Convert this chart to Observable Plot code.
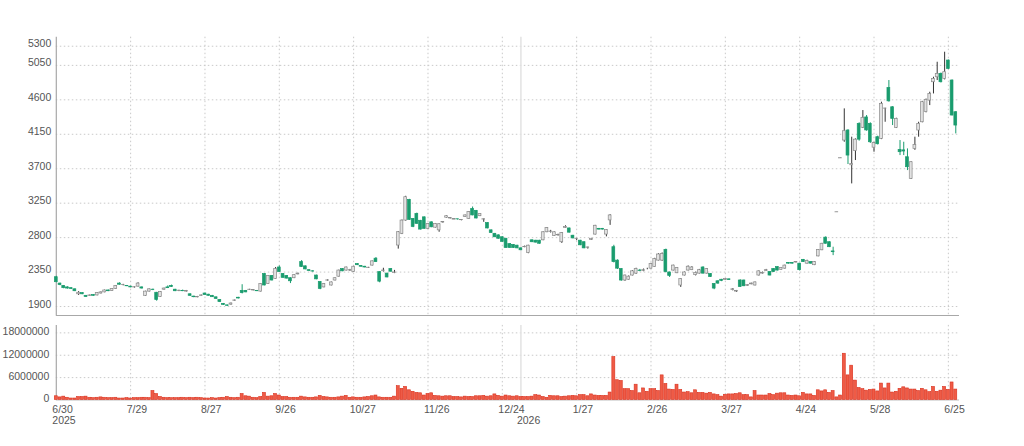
<!DOCTYPE html>
<html>
<head>
<meta charset="utf-8">
<script src="https://cdn.jsdelivr.net/npm/d3@7"></script>
<script src="https://cdn.jsdelivr.net/npm/@observablehq/plot@0.6"></script>
<style>
  html, body { margin: 0; padding: 0; background: #fff; }
  #chart { width: 1024px; height: 446px; position: relative; overflow: hidden; }
  #chart svg { display: block; }
</style>
</head>
<body>
<div id="chart"></div>
<script>
// ---- Data (trading-day index 0 = 2025/6/30) ----
const open = [2283,2200,2170,2150,2140,2125,2060,2075,2040,2040,2050,2045,2070,2085,2110,2105,2130,2200,2180,2170,
2160,2150,2160,2150,2040,2095,2120,2080,2025,2120,2150,2170,2120,2105,2105,2095,2060,2030,2020,2040,
2070,2055,2040,2020,1985,1935,1915,1925,1975,2015,2105,2105,2115,2110,2105,2095,2325,2195,2300,2260,
2410,2325,2300,2270,2270,2320,2480,2425,2375,2360,2305,2220,2150,2238,2175,2240,2290,2390,2370,2370,
2350,2455,2430,2420,2403,2435,2525,2350,2365,2330,2390,2340,2697,2850,3023,3293,3045,3110,3020,
3065,2915,3000,2930,2895,2998,3060,3050,3035,3040,3028,3070,3045,3175,3150,3080,3036,2990,2895,2850,2830,
2805,2785,2715,2705,2695,2660,2675,2600,2765,2760,2760,2765,2870,2875,2820,2830,2740,2925,2920,2825,
2782,2760,2740,2668,2770,2840,2915,2915,2840,3025,2675,2500,2390,2240,2250,2305,2330,2370,2365,2390,
2395,2415,2500,2500,2640,2345,2370,2335,2175,2305,2370,2375,2310,2330,2410,2330,2325,2195,2230,2250,
2245,2255,2115,2095,2240,2240,2170,2190,2175,2305,2330,2365,2350,2390,2415,2380,2395,2470,2470,2475,
2460,2510,2460,2480,2440,2555,2635,2800,2740,2620,3130,3835,4068,4199,3745,3930,4286,4235,4370,4286,
3975,4112,4090,4485,4755,4503,4234,3946,3940,3850,3568,3959,4199,4307,4440,4590,4830,4895,4939,4873,
5113,4852,4438];
const high = [2295,2205,2175,2158,2145,2130,2095,2080,2045,2050,2055,2080,2090,2115,2115,2135,2175,2210,2190,2175,
2165,2158,2210,2155,2100,2130,2128,2085,2095,2140,2170,2180,2125,2112,2115,2110,2065,2035,2032,2050,
2075,2060,2045,2025,1990,1940,1920,1945,1985,2020,2185,2110,2125,2120,2110,2200,2330,2305,2305,2410,
2430,2330,2305,2275,2315,2335,2500,2430,2380,2368,2310,2225,2200,2250,2220,2275,2375,2395,2415,2385,
2425,2460,2435,2425,2412,2495,2540,2355,2400,2335,2395,2372,2880,3030,3340,3300,3050,3120,3025,
3070,2985,3005,2985,2980,3010,3085,3060,3048,3042,3035,3095,3140,3200,3155,3112,3045,2995,2900,2855,2835,
2810,2790,2720,2710,2700,2665,2690,2700,2770,2765,2765,2875,2930,2895,2875,2845,2865,2955,2925,2830,
2790,2765,2745,2675,2790,2960,2920,2920,2905,3100,2700,2510,2395,2310,2300,2370,2400,2385,2390,2400,
2465,2530,2590,2600,2650,2350,2440,2410,2265,2350,2430,2420,2350,2385,2420,2395,2330,2200,2235,2255,
2265,2260,2135,2110,2250,2245,2185,2205,2220,2365,2350,2385,2355,2395,2420,2410,2440,2475,2475,2485,
2465,2515,2505,2485,2485,2645,2725,2810,2745,2675,3132,3838,4482,4210,4112,4090,4300,4460,4395,4300,
4045,4125,4569,4490,4852,4510,4360,4068,4046,3959,3790,4112,4307,4580,4610,4699,4895,5091,4950,5222,
5120,4860,4445];
const low = [2210,2172,2132,2128,2122,2095,2045,2055,2018,2035,2035,2040,2065,2080,2095,2100,2125,2180,2170,2160,
2145,2140,2155,2130,2035,2090,2108,1970,2020,2115,2135,2150,2095,2095,2095,2090,2035,2015,2015,2035,
2045,2035,2018,1995,1952,1915,1900,1918,1968,2000,2065,2080,2110,2105,2095,2090,2170,2190,2235,2255,
2345,2270,2260,2200,2265,2315,2410,2380,2360,2350,2250,2120,2145,2230,2170,2235,2285,2355,2365,2360,
2345,2435,2415,2405,2398,2430,2475,2210,2350,2275,2350,2330,2650,2840,3015,3025,2930,2975,2900,
2910,2910,2930,2925,2870,2990,3055,3045,3035,3028,3020,3065,3040,3085,3045,3075,3000,2915,2855,2800,2780,
2740,2660,2660,2660,2655,2630,2668,2590,2735,2730,2715,2760,2865,2860,2815,2820,2725,2920,2860,2785,
2760,2695,2655,2650,2765,2835,2900,2900,2810,2960,2470,2385,2230,2230,2245,2300,2320,2355,2355,2380,
2390,2410,2495,2490,2340,2280,2365,2330,2150,2300,2365,2370,2300,2325,2325,2325,2280,2120,2190,2225,
2240,2240,2105,2085,2150,2160,2165,2185,2170,2300,2325,2360,2300,2345,2365,2375,2390,2455,2455,2470,
2365,2475,2455,2455,2435,2550,2630,2715,2670,2565,3130,3835,4046,3755,3502,3807,4060,4225,4190,4030,
3916,4010,4080,4307,4570,4264,4225,3872,3872,3676,3560,3940,4112,4300,4430,4525,4677,4852,4820,4860,
4995,4390,4155];
const close = [2218,2180,2140,2135,2130,2100,2080,2060,2025,2045,2040,2075,2085,2110,2100,2130,2170,2185,2182,2165,
2150,2152,2200,2135,2095,2125,2115,1985,2090,2135,2140,2155,2100,2107,2100,2105,2040,2022,2025,2045,
2050,2040,2022,2000,1958,1922,1910,1940,1980,2005,2075,2085,2120,2115,2100,2195,2175,2300,2240,2390,
2350,2275,2265,2230,2310,2330,2415,2385,2365,2357,2255,2130,2195,2242,2215,2270,2370,2360,2410,2375,
2420,2440,2420,2410,2407,2490,2480,2225,2370,2280,2355,2345,2871,3023,3328,3032,2940,2980,2905,
2915,2980,2935,2980,2975,3005,3080,3055,3044,3038,3032,3090,3135,3090,3050,3108,3040,2920,2860,2805,2785,
2745,2665,2665,2665,2660,2635,2680,2695,2740,2735,2720,2870,2925,2880,2870,2835,2860,2940,2865,2790,
2786,2700,2660,2672,2785,2955,2905,2905,2900,3090,2480,2395,2240,2305,2290,2360,2390,2365,2375,2390,
2455,2520,2580,2585,2350,2300,2435,2405,2260,2345,2420,2410,2340,2375,2330,2390,2285,2135,2200,2235,
2260,2245,2125,2105,2155,2165,2180,2200,2215,2360,2340,2375,2305,2350,2370,2405,2435,2460,2460,2480,
2375,2480,2495,2460,2480,2640,2720,2720,2675,2610,3132,3838,4190,3872,3760,4080,4080,4365,4200,4046,
4035,4020,4547,4486,4580,4351,4351,3916,3925,3720,3785,4010,4286,4569,4600,4677,4873,4939,4830,4961,
5004,4395,4264];
const volume = [1000000,700000,900000,600000,400000,400000,800000,800000,900000,600000,500000,600000,700000,600000,500000,500000,600000,400000,400000,500000,
400000,500000,500000,600000,600000,500000,2400000,1600000,800000,600000,500000,500000,500000,500000,600000,500000,600000,500000,600000,500000,
400000,400000,500000,400000,500000,600000,800000,600000,500000,600000,1600000,1000000,900000,600000,500000,800000,1900000,900000,1000000,1600000,
1200000,800000,800000,600000,600000,600000,900000,700000,600000,600000,700000,1100000,800000,700000,600000,600000,700000,900000,1100000,600000,
700000,600000,600000,700000,800000,1000000,1200000,700000,600000,600000,600000,900000,3700000,3000000,3500000,2600000,2200000,1900000,1800000,
1200000,1600000,1800000,1100000,1000000,900000,1000000,1000000,800000,800000,700000,900000,800000,800000,1000000,1000000,1100000,900000,1000000,1500000,1100000,
900000,1200000,1000000,900000,1000000,800000,800000,800000,900000,1300000,1200000,800000,600000,1100000,1000000,1000000,800000,900000,1000000,1100000,
1000000,1300000,1300000,1000000,1500000,1200000,1100000,1100000,1100000,2000000,11500000,5300000,5100000,2900000,2900000,2400000,4100000,1800000,3100000,2200000,
2900000,2900000,2400000,6600000,4300000,2800000,2700000,4100000,2700000,2000000,2100000,1800000,2600000,1900000,1900000,1700000,1900000,1500000,1300000,900000,
1400000,1500000,1500000,1600000,1800000,1300000,1300000,700000,2400000,1200000,1200000,1200000,1600000,1300000,1700000,1800000,1800000,1200000,1100000,1200000,
1000000,1900000,1500000,1500000,1100000,2600000,2300000,2600000,1900000,2400000,700000,1200000,12400000,6600000,9200000,5200000,3200000,2900000,2500000,2700000,
2800000,2300000,4400000,3100000,4400000,2000000,2200000,3000000,3400000,3100000,2800000,2800000,2400000,3000000,2600000,2100000,3500000,2200000,2500000,3500000,
2700000,4700000,2800000];

const priceTicks = [1900, 2350, 2800, 3250, 3700, 4150, 4600, 5050, 5300];
const volumeTicks = [0, 6000000, 12000000, 18000000];
const dateTickIndex = [0, 20, 40, 60, 80, 100, 120, 140, 160, 180, 200, 220, 240];
const dateTickLabels = ["6/30","7/29","8/27","9/26","10/27","11/26","12/24","1/27","2/26","3/27","4/24","5/28","6/25"];
const yearIndex = [0, 125];
const yearLabels = ["2025", "2026"];

// ---- Build tables ----
const bars = close.map((c, i) => ({i, o: open[i], h: high[i], l: low[i], c, v: volume[i]}));
const dateTicks = dateTickIndex.map((i, k) => ({i, label: dateTickLabels[k]}));
const years = yearIndex.map((i, k) => ({i, label: yearLabels[k]}));

const GREEN = "#1a9c6e";
const HOLLOW_FILL = "#e2e2e2";
const HOLLOW_STROKE = "#8a8a8a";
const GRID = {stroke: "#c9c9c9", strokeOpacity: 1, strokeDasharray: "1.5,2.5", strokeWidth: 1};
const FONT = {fontFamily: "'Liberation Sans', Arial, sans-serif", fontSize: "10.5px", color: "#555", background: "transparent", overflow: "visible"};
const XDOM = [0, 243];
const ML = 55.8, MR = 65;
const isDown = d => d.c < d.o;

const price = Plot.plot({
  width: 1024, height: 320,
  marginLeft: ML, marginRight: MR, marginTop: 36.7, marginBottom: 5,
  x: {domain: XDOM, axis: null, label: null},
  y: {domain: [1783, 5418], axis: null, label: null},
  style: FONT,
  marks: [
    Plot.gridY(priceTicks, GRID),
    Plot.gridX(dateTickIndex.slice(1), GRID),
    Plot.ruleX([yearIndex[1]], {stroke: "#e3e3e3", strokeWidth: 1.5}),
    Plot.axisY(priceTicks, {tickSize: 0, tickPadding: 5, dy: -2.4, fill: "#555", label: null, tickFormat: d => String(d)}),
    Plot.ruleX([0], {stroke: "#a8a8a8", strokeWidth: 1.2}),
    Plot.ruleY([1783], {stroke: "#a8a8a8", strokeWidth: 1.2}),
    Plot.ruleX(bars, {x: "i", y1: "l", y2: "h", stroke: d => isDown(d) ? GREEN : "#333", strokeWidth: 1}),
    Plot.rect(bars, {
      x1: d => d.i - 0.38, x2: d => d.i + 0.38,
      y1: d => Math.min(d.o, d.c), y2: d => Math.max(d.o, d.c),
      fill: d => isDown(d) ? GREEN : HOLLOW_FILL,
      stroke: d => isDown(d) ? GREEN : HOLLOW_STROKE,
      strokeWidth: 0.7
    })
  ]
});

const vol = Plot.plot({
  width: 1024, height: 126,
  marginLeft: ML, marginRight: MR, marginTop: 4.9, marginBottom: 46.5,
  x: {domain: XDOM, axis: null, label: null},
  y: {domain: [0, 20000000], axis: null, label: null},
  style: FONT,
  marks: [
    Plot.gridY(volumeTicks.slice(1), GRID),
    Plot.gridX(dateTickIndex.slice(1), GRID),
    Plot.ruleX([yearIndex[1]], {stroke: "#e3e3e3", strokeWidth: 1.5}),
    Plot.axisY(volumeTicks, {tickSize: 0, tickPadding: 7, dy: -1, fill: "#555", label: null, tickFormat: d => String(d)}),
    Plot.ruleX([0], {stroke: "#a8a8a8", strokeWidth: 1.2}),
    Plot.ruleY([0], {stroke: "#bdbdbd", strokeWidth: 1}),
    Plot.rectY(bars, {x1: d => d.i - 0.4, x2: d => d.i + 0.4, y: "v", fill: "#ef5b46", stroke: "#d9301d", strokeWidth: 0.6}),
    Plot.text(dateTicks, {x: "i", text: "label", frameAnchor: "bottom", dy: 9.8, dx: -4, textAnchor: "start", lineAnchor: "middle", fill: "#555"}),
    Plot.text(years, {x: "i", text: "label", frameAnchor: "bottom", dy: 20.6, dx: -4, textAnchor: "start", lineAnchor: "middle", fill: "#555"})
  ]
});

const root = document.getElementById("chart");
root.appendChild(price);
root.appendChild(vol);
</script>
</body>
</html>
